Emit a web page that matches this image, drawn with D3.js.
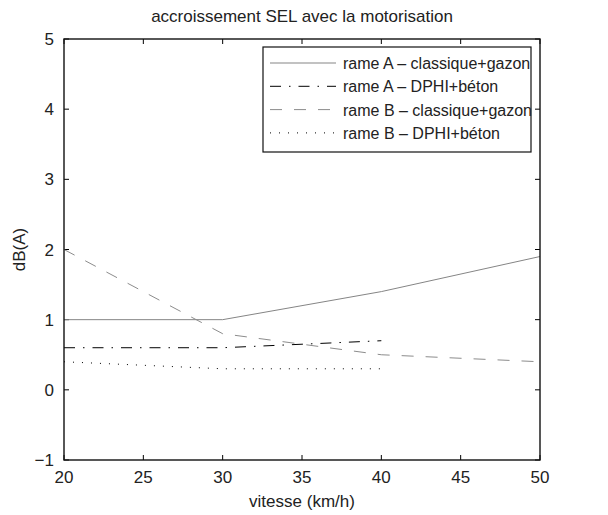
<!DOCTYPE html>
<html><head><meta charset="utf-8">
<script src="https://cdn.jsdelivr.net/npm/d3@7"></script>
<style>body{margin:0;background:#fff}svg{display:block;font-family:"Liberation Sans",Arial,sans-serif}</style>
</head><body><svg id="c" width="608" height="515"></svg>
<script>
const speeds = [20, 30, 40, 50];
const rameAClassique = [1.0, 1.0, 1.4, 1.9];
const rameADPHI = [0.6, 0.6, 0.7, null];
const rameBClassique = [2.0, 0.8, 0.5, 0.4];
const rameBDPHI = [0.4, 0.3, 0.3, null];
const seriesNames = ["rame A \u2013 classique+gazon", "rame A \u2013 DPHI+béton", "rame B \u2013 classique+gazon", "rame B \u2013 DPHI+béton"];
const xTicks = [20, 25, 30, 35, 40, 45, 50];
const yTicks = [-1, 0, 1, 2, 3, 4, 5];

const styles = [
  {color:"#858585", dash:null, w:1},
  {color:"#000", dash:"11,8,1.5,8", w:1},
  {color:"#8c8c8c", dash:"12,12", w:1},
  {color:"#000", dash:"1,8", w:1}
];
const allSeries = [rameAClassique, rameADPHI, rameBClassique, rameBDPHI];

const svg = d3.select("#c");
const L = 64, R = 540, T = 39, B = 460;
const x = d3.scaleLinear().domain([20, 50]).range([L, R]);
const y = d3.scaleLinear().domain([-1, 5]).range([B, T]);

const tl = 5;
const g = svg.append("g");
xTicks.forEach(t => {
  g.append("line").attr("x1", x(t)).attr("x2", x(t)).attr("y1", B).attr("y2", B - tl).attr("stroke", "#000");
  g.append("line").attr("x1", x(t)).attr("x2", x(t)).attr("y1", T).attr("y2", T + tl).attr("stroke", "#000");
  g.append("text").attr("x", x(t)).attr("y", B + 23).attr("text-anchor", "middle").attr("font-size", 17).attr("fill", "#222").text(t);
});
yTicks.forEach(t => {
  g.append("line").attr("x1", L).attr("x2", L + tl).attr("y1", y(t)).attr("y2", y(t)).attr("stroke", "#000");
  g.append("line").attr("x1", R).attr("x2", R - tl).attr("y1", y(t)).attr("y2", y(t)).attr("stroke", "#000");
  g.append("text").attr("x", L - 10).attr("y", y(t) + 6).attr("text-anchor", "end").attr("font-size", 17).attr("fill", "#222").text(t < 0 ? "\u2212" + Math.abs(t) : t);
});

allSeries.forEach((s, i) => {
  const pts = speeds.map((v, j) => [v, s[j]]).filter(p => p[1] !== null);
  const line = d3.line().x(d => x(d[0])).y(d => y(d[1]));
  svg.append("path").attr("d", line(pts)).attr("fill", "none")
    .attr("stroke", styles[i].color).attr("stroke-width", styles[i].w)
    .attr("stroke-dasharray", styles[i].dash);
});

svg.append("rect").attr("x", L).attr("y", T).attr("width", R - L).attr("height", B - T)
  .attr("fill", "none").attr("stroke", "#111").attr("stroke-width", 1.4);

const lg = svg.append("g");
lg.append("rect").attr("x", 263).attr("y", 47).attr("width", 268).attr("height", 105)
  .attr("fill", "#fff").attr("stroke", "#111").attr("stroke-width", 1.2);
seriesNames.forEach((n, i) => {
  const yy = 63 + i * 23.3;
  lg.append("line").attr("x1", 270).attr("x2", 336).attr("y1", yy).attr("y2", yy)
    .attr("stroke", styles[i].color).attr("stroke-width", styles[i].w).attr("stroke-dasharray", styles[i].dash);
  lg.append("text").attr("x", 343).attr("y", yy + 6).attr("font-size", 16).attr("fill", "#222").text(n);
});

svg.append("text").attr("x", 302).attr("y", 22).attr("text-anchor", "middle").attr("font-size", 17).attr("fill", "#222").text("accroissement SEL avec la motorisation");
svg.append("text").attr("x", 302).attr("y", 507).attr("text-anchor", "middle").attr("font-size", 17).attr("fill", "#222").text("vitesse (km/h)");
svg.append("text").attr("transform", "translate(25," + ((T + B) / 2) + ") rotate(-90)").attr("text-anchor", "middle").attr("font-size", 17).attr("fill", "#222").text("dB(A)");
</script></body></html>
